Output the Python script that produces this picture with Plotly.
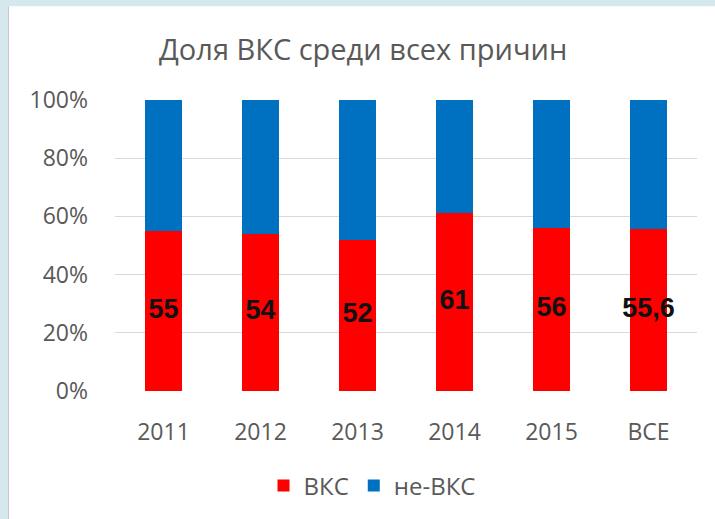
import plotly.graph_objects as go

# Share of ВКС among all causes, by year
categories = ["2011", "2012", "2013", "2014", "2015", "ВСЕ"]
vks = [55, 54, 52, 61, 56, 55.6]
non_vks = [100 - v for v in vks]
vks_labels = ["55", "54", "52", "61", "56", "55,6"]
y_ticks = [0, 20, 40, 60, 80, 100]
y_tick_text = ["0%", "20%", "40%", "60%", "80%", "100%"]

W, H = 715, 519
L, R, T, B = 115, 18, 100, 127
pw, ph = W - L - R, H - T - B


def px_x(x):
    return (x - L) / pw


def px_y(y):
    return (H - B - y) / ph


GRAY = "#595959"
FONT = "Open Sans"

fig = go.Figure()
fig.add_trace(go.Bar(x=categories, y=vks, name="ВКС", marker_color="#ff0000",
                     marker_line_width=0))
fig.add_trace(go.Bar(x=categories, y=non_vks, name="не-ВКС", marker_color="#0070c0",
                     marker_line_width=0))
# value labels centred in the red segment
fig.add_trace(go.Scatter(x=categories, y=[v / 2 for v in vks], mode="text",
                         text=vks_labels, showlegend=False, hoverinfo="skip",
                         textfont=dict(family="Liberation Sans", size=27,
                                       color="#111111", weight="bold")))

fig.update_layout(
    width=W, height=H,
    margin=dict(l=L, r=R, t=T, b=B, pad=0),
    barmode="stack", bargap=0.61,
    paper_bgcolor="#d4e8ee", plot_bgcolor="rgba(0,0,0,0)",
    font=dict(family=FONT, color=GRAY),
    showlegend=True,
    legend=dict(orientation="h", x=px_x(372), y=px_y(486), xanchor="center",
                yanchor="middle", font=dict(size=24, color=GRAY, family=FONT),
                bgcolor="rgba(0,0,0,0)", itemwidth=30, tracegroupgap=0,
                traceorder="normal"),
    xaxis=dict(showgrid=False, showline=False, ticks="", zeroline=False,
               tickfont=dict(size=23, color=GRAY, family=FONT),
               ticklabelstandoff=25),
    yaxis=dict(range=[0, 100], tickvals=y_ticks, ticktext=y_tick_text,
               showgrid=True, gridcolor="#d9d9d9", gridwidth=1,
               zeroline=False, showline=False, ticks="",
               tickfont=dict(size=23, color=GRAY, family=FONT),
               ticklabelstandoff=26),
    shapes=[
        dict(type="rect", xref="paper", yref="paper", layer="below",
             x0=px_x(8), x1=px_x(W + 2), y0=px_y(6), y1=px_y(H + 2),
             fillcolor="white", line_width=0),
        dict(type="line", xref="paper", yref="paper", layer="below",
             x0=px_x(8.5), x1=px_x(8.5), y0=px_y(6), y1=px_y(H + 2),
             line=dict(color="#c8c8c8", width=1)),
    ],
    annotations=[
        dict(text="Доля ВКС среди всех причин", xref="paper", yref="paper",
             x=px_x(363), y=px_y(48), xanchor="center", yanchor="middle",
             showarrow=False, font=dict(size=29, color=GRAY, family=FONT)),
    ],
)

fig.write_html("out.html")
